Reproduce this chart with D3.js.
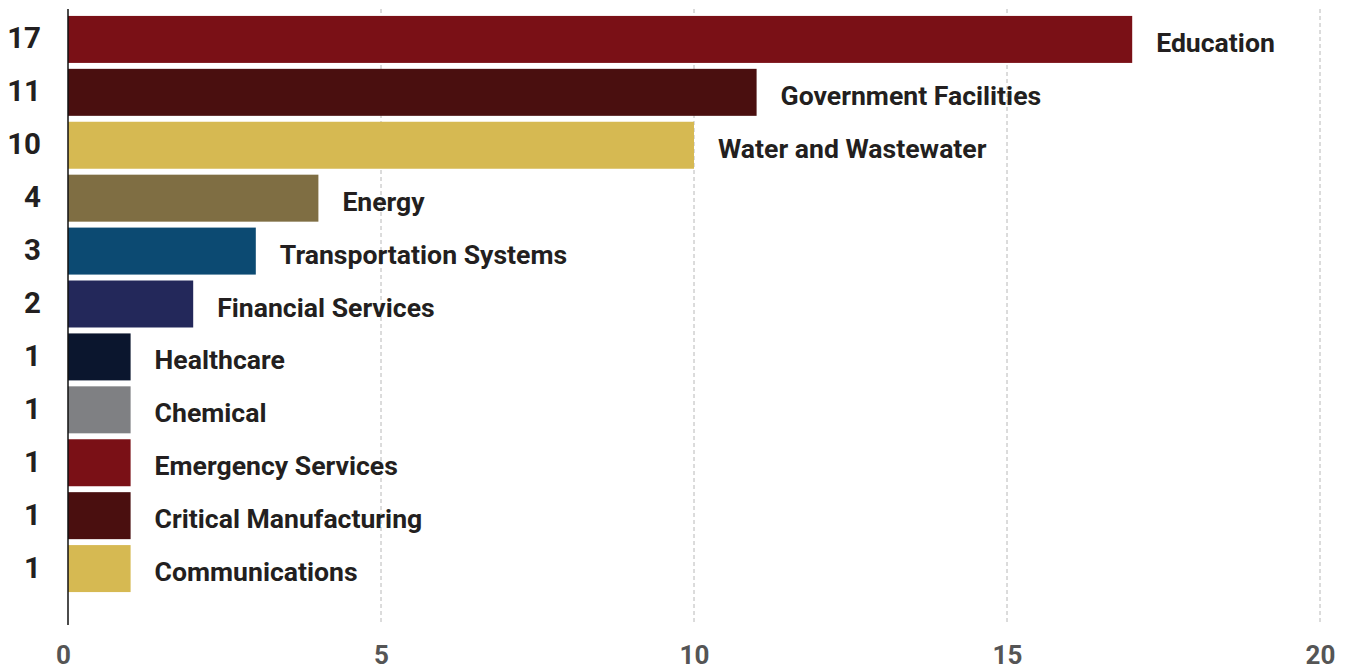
<!DOCTYPE html>
<html>
<head>
<meta charset="utf-8">
<script src="https://cdn.jsdelivr.net/npm/d3@7"></script>
<style>
  html, body { margin: 0; padding: 0; background: #fff; overflow: hidden; }
  svg { display: block; font-family: Roboto, "Open Sans", sans-serif; }
</style>
</head>
<body>
<svg id="chart" width="1348" height="671"></svg>
<script>
// Incidents by critical infrastructure sector
const sectors = [
  "Education", "Government Facilities", "Water and Wastewater", "Energy",
  "Transportation Systems", "Financial Services", "Healthcare", "Chemical",
  "Emergency Services", "Critical Manufacturing", "Communications"
];
const counts = [17, 11, 10, 4, 3, 2, 1, 1, 1, 1, 1];
const barColors = [
  "#7a1016", "#4a0f0f", "#d6b952", "#7f6e43", "#0c4a72", "#23285a",
  "#0b162e", "#7f8083", "#7a1016", "#4a0f0f", "#d6b952"
];
const xTicks = [0, 5, 10, 15, 20];

const svg = d3.select("#chart");
const rows = sectors.map((s, i) => ({ sector: s, count: counts[i], color: barColors[i] }));

const x = d3.scaleLinear().domain([0, 20]).range([68, 1320]);
const y = d3.scaleBand().domain(sectors).range([10, 598]).padding(0.112);

const plotTop = 9, plotBottom = 625;

// dashed vertical gridlines
svg.append("g")
  .selectAll("line")
  .data(xTicks.filter(t => t > 0))
  .join("line")
  .attr("x1", d => x(d)).attr("x2", d => x(d))
  .attr("y1", plotTop).attr("y2", plotBottom)
  .attr("stroke", "#b8b8b8")
  .attr("stroke-width", 1)
  .attr("stroke-dasharray", "4,3");

// bars
svg.append("g")
  .selectAll("rect")
  .data(rows)
  .join("rect")
  .attr("x", x(0))
  .attr("y", d => y(d.sector))
  .attr("width", d => x(d.count) - x(0))
  .attr("height", y.bandwidth())
  .attr("fill", d => d.color);

// vertical axis line
svg.append("line")
  .attr("x1", x(0)).attr("x2", x(0))
  .attr("y1", plotTop).attr("y2", plotBottom)
  .attr("stroke", "#111")
  .attr("stroke-width", 1.5);

// values on the left
svg.append("g")
  .selectAll("text")
  .data(rows)
  .join("text")
  .attr("x", 41)
  .attr("y", d => y(d.sector) + y.bandwidth() / 2 - 1)
  .attr("dominant-baseline", "central")
  .attr("text-anchor", "end")
  .attr("font-size", 29.5)
  .attr("font-weight", 700)
  .attr("fill", "#231f20")
  .text(d => d.count);

// sector names after the bars
svg.append("g")
  .selectAll("text")
  .data(rows)
  .join("text")
  .attr("x", d => x(d.count) + 24)
  .attr("y", d => y(d.sector) + y.bandwidth() / 2 + 3)
  .attr("dominant-baseline", "central")
  .attr("font-size", 26.6)
  .attr("font-weight", 700)
  .attr("fill", "#231f20")
  .text(d => d.sector);

// bottom axis tick labels
const xAxis = d3.axisBottom(x).tickValues(xTicks).tickSize(0).tickPadding(0);
const gx = svg.append("g").attr("transform", `translate(0, 646)`).call(xAxis);
gx.select(".domain").remove();
gx.selectAll("text")
  .attr("dy", "0.71em")
  .attr("font-family", "Roboto, sans-serif")
  .attr("font-size", 26)
  .attr("font-weight", 700)
  .attr("fill", "#555")
  .attr("dx", d => d === 0 ? -5 : 0);
</script>
</body>
</html>
